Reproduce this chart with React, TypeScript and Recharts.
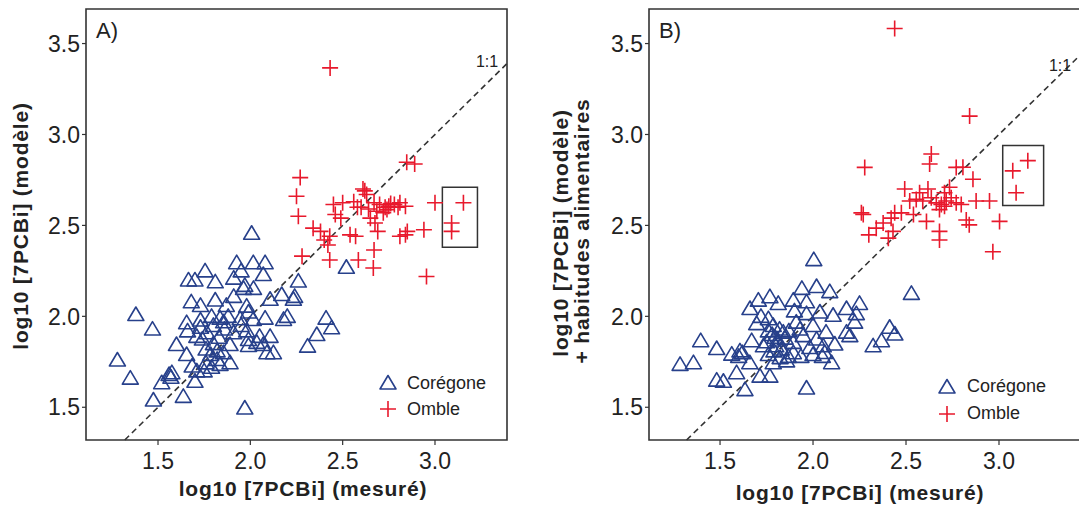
import { ScatterChart, Scatter, XAxis, YAxis, ReferenceArea, ReferenceLine, Legend } from 'recharts';

type Pt = [number, number];

// A) measured vs model
const coregoneA: Pt[] = [
  [1.28, 1.76], [1.35, 1.66], [1.38, 2.01], [1.47, 1.93], [1.475, 1.54], [1.52, 1.635], [1.56, 1.68],
  [1.575, 1.69], [1.57, 1.665], [1.6, 1.845], [1.637, 1.56], [1.655, 1.79], [1.665, 2.2], [1.7, 2.2],
  [1.755, 2.25], [1.81, 2.19], [1.68, 2.08], [1.73, 2.06], [1.81, 2.09], [1.655, 1.965], [1.73, 1.98],
  [1.79, 2.0], [1.836, 1.99], [1.87, 2.06], [1.91, 2.11], [1.926, 2.295], [1.91, 2.21], [1.95, 2.25],
  [1.97, 2.17], [2.016, 2.295], [2.08, 2.295], [2.07, 2.23], [1.98, 2.056], [2.016, 1.983], [1.98, 1.92],
  [1.99, 1.873], [1.91, 1.91], [1.89, 1.845], [1.854, 1.8], [1.82, 1.763], [1.76, 1.744], [1.76, 1.82],
  [1.8, 1.85], [1.71, 1.7], [1.75, 1.7], [1.7, 1.643], [1.97, 1.496], [2.08, 1.99], [2.107, 2.094],
  [2.05, 1.89], [2.107, 1.89], [2.07, 1.845], [2.09, 1.8], [2.125, 1.8], [2.18, 1.983], [2.2, 2.0],
  [2.17, 2.12], [2.233, 2.094], [2.24, 2.11], [2.26, 2.194], [2.41, 1.99], [2.44, 1.937], [2.36, 1.9],
  [2.31, 1.836], [2.52, 2.27], [2.007, 2.457], [1.73, 1.94], [1.765, 1.91], [1.8, 1.95], [1.83, 1.885],
  [1.74, 1.875], [1.785, 1.79], [1.836, 1.736], [1.89, 1.745], [1.855, 1.97], [1.945, 1.987], [1.99, 2.024],
  [2.017, 2.154], [1.963, 2.154], [2.035, 1.857], [1.99, 1.84], [1.71, 1.89], [1.685, 1.727], [1.79, 1.72],
  [1.82, 1.81], [1.86, 1.93], [1.66, 1.92], [1.95, 1.95], [1.88, 2.0],
];

const ombleA: Pt[] = [
  [2.432, 3.366], [2.27, 2.763], [2.25, 2.66], [2.26, 2.55], [2.847, 2.847], [2.89, 2.838], [2.62, 2.69],
  [2.63, 2.67], [2.61, 2.7], [2.45, 2.615], [2.5, 2.625], [2.56, 2.63], [2.6, 2.6], [2.67, 2.625],
  [2.7, 2.615], [2.75, 2.605], [2.78, 2.615], [2.81, 2.625], [2.84, 2.605], [2.685, 2.578], [2.72, 2.57],
  [2.74, 2.587], [2.46, 2.56], [2.49, 2.54], [2.65, 2.54], [2.675, 2.513], [2.34, 2.485], [2.38, 2.467],
  [2.43, 2.44], [2.4, 2.42], [2.54, 2.448], [2.57, 2.44], [2.69, 2.467], [2.81, 2.44], [2.84, 2.448],
  [2.85, 2.467], [2.94, 2.476], [3.0, 2.625], [3.154, 2.625], [3.09, 2.513], [3.09, 2.467], [2.67, 2.365],
  [2.42, 2.392], [2.28, 2.331], [2.43, 2.31], [2.585, 2.31], [2.666, 2.266], [2.954, 2.219],
  [2.58, 2.6], [2.64, 2.59], [2.76, 2.62], [2.73, 2.6], [2.8, 2.6],
];

// B) model + eating habits
const coregoneB: Pt[] = [
  [2.004, 2.312], [2.529, 2.126], [1.285, 1.736], [1.357, 1.745], [1.396, 1.866], [1.482, 1.823],
  [1.482, 1.649], [1.518, 1.643], [1.563, 1.792], [1.607, 1.81], [1.589, 1.69], [1.634, 1.597], [1.66, 1.745],
  [1.67, 1.866], [1.661, 2.043], [1.706, 2.089], [1.768, 2.108], [1.813, 2.071], [1.697, 1.96], [1.76, 1.987],
  [1.715, 1.671], [1.768, 1.671], [1.786, 1.745], [1.795, 1.885], [1.84, 1.913], [1.8, 1.838], [1.83, 1.82],
  [1.867, 1.78], [1.894, 1.857], [1.894, 2.089], [1.94, 2.154], [1.965, 2.08], [2.019, 2.164], [2.09, 2.136],
  [1.965, 2.015], [1.91, 1.968], [2.0, 1.95], [2.037, 2.024], [2.108, 2.006], [2.07, 1.913], [2.019, 1.875],
  [1.947, 1.894], [1.983, 1.829], [2.055, 1.838], [2.117, 1.848], [2.063, 1.801], [2.1, 1.745], [1.965, 1.606],
  [2.18, 2.043], [2.25, 2.071], [2.233, 2.015], [2.224, 1.968], [2.18, 1.913], [2.198, 1.894], [2.323, 1.838],
  [2.368, 1.866], [2.412, 1.94], [2.44, 1.903], [1.76, 1.92], [1.733, 1.838], [1.786, 1.95], [1.858, 1.755],
  [1.894, 1.8], [1.823, 1.773], [1.78, 1.9], [1.81, 1.87], [1.85, 1.88], [1.75, 1.86], [1.82, 1.93],
  [1.87, 1.92], [1.79, 1.81], [1.76, 1.79], [1.93, 1.93], [1.9, 2.03], [1.72, 2.0], [1.62, 1.8], [1.6, 1.78],
  [1.935, 1.78], [2.0, 1.79], [2.05, 1.78],
];

const ombleB: Pt[] = [
  [2.439, 3.583], [2.842, 3.101], [2.278, 2.819], [2.636, 2.893], [2.627, 2.838], [2.77, 2.819], [2.806, 2.82],
  [2.86, 2.754], [2.493, 2.7], [2.573, 2.68], [2.618, 2.7], [2.707, 2.68], [2.734, 2.71], [2.52, 2.634],
  [2.555, 2.643], [2.59, 2.634], [2.636, 2.652], [2.663, 2.624], [2.69, 2.615], [2.716, 2.634], [2.743, 2.652],
  [2.77, 2.624], [2.797, 2.615], [2.877, 2.634], [2.949, 2.634], [2.68, 2.587], [2.707, 2.605], [2.439, 2.569],
  [2.475, 2.569], [2.42, 2.54], [2.54, 2.56], [2.26, 2.569], [2.27, 2.56], [2.377, 2.513], [2.34, 2.485],
  [2.3, 2.448], [2.43, 2.467], [2.405, 2.43], [2.61, 2.522], [2.68, 2.467], [2.68, 2.42], [2.824, 2.53],
  [2.84, 2.503], [3.003, 2.522], [2.967, 2.355], [3.092, 2.68], [3.074, 2.8], [3.155, 2.856],
];

const xTicks = [1.5, 2.0, 2.5, 3.0];
const yTicks = [1.5, 2.0, 2.5, 3.0, 3.5];
const seriesNames = ['Corégone', 'Omble'];
const yDomain: [number, number] = [1.32, 3.69];
// highlighted points [x1, x2, y1, y2]
const boxA = [3.04, 3.23, 2.38, 2.71];
const boxB = [3.02, 3.24, 2.61, 2.94];

const BLUE = '#27408B';
const RED = '#E8192C';
const INK = '#222';
const FRAME = '#333';
const FONT = "'Liberation Sans', Arial, sans-serif";

const toRows = (pts: Pt[]) => pts.map(([x, y]) => ({ x, y }));

function Triangle(props: any) {
  const { cx, cy } = props;
  return (
    <path
      d={`M${cx},${cy - 7.5}L${cx + 8},${cy + 6}L${cx - 8},${cy + 6}Z`}
      fill="none" stroke={BLUE} strokeWidth={1.6} strokeLinejoin="round"
    />
  );
}

function Plus(props: any) {
  const { cx, cy } = props;
  return <path d={`M${cx - 8},${cy}H${cx + 8}M${cx},${cy - 8}V${cy + 8}`} stroke={RED} strokeWidth={1.6} />;
}

const legendContent = (gap: number, row: number) => () => (
  <div style={{ fontFamily: FONT, fontSize: 18, color: INK }}>
    {seriesNames.map((name, i) => (
      <div key={name} style={{ display: 'flex', alignItems: 'center', height: row }}>
        <svg width={20} height={20}>{i === 0 ? <Triangle cx={10} cy={10} /> : <Plus cx={10} cy={10} />}</svg>
        <span style={{ marginLeft: gap }}>{name}</span>
      </div>
    ))}
  </div>
);

function Panel(p: {
  left: number; width: number; mLeft: number; mRight: number; yAxisW: number;
  xDomain: [number, number]; coregone: Pt[]; omble: Pt[]; box: number[];
  legendPos: { left: number; top: number; gap: number; row: number };
}) {
  const [x0, x1] = p.xDomain;
  const lineEnd = Math.min(x1, yDomain[1]);
  return (
    <div style={{ position: 'absolute', left: p.left, top: 0, fontFamily: FONT }}>
      <ScatterChart width={p.width} height={512} margin={{ top: 9, right: p.mRight, bottom: 42, left: p.mLeft }}>
        <XAxis
          type="number" dataKey="x" domain={p.xDomain} ticks={xTicks} allowDataOverflow
          height={30} axisLine={false} tickSize={5} tickMargin={8}
          tickLine={{ stroke: FRAME, strokeWidth: 1.2 }}
          tick={{ fill: INK, fontSize: 23, fontFamily: FONT }}
          tickFormatter={(v: number) => v.toFixed(1)}
        />
        <YAxis
          type="number" dataKey="y" domain={yDomain} ticks={yTicks} allowDataOverflow
          width={p.yAxisW} axisLine={false} tickSize={4} tickMargin={2}
          tickLine={{ stroke: FRAME, strokeWidth: 1.2 }}
          tick={{ fill: INK, fontSize: 23, fontFamily: FONT }}
          tickFormatter={(v: number) => v.toFixed(1)}
        />
        <Scatter name={seriesNames[0]} data={toRows(p.coregone)} shape={Triangle} isAnimationActive={false} />
        <Scatter name={seriesNames[1]} data={toRows(p.omble)} shape={Plus} isAnimationActive={false} />
        <ReferenceLine
          segment={[{ x: yDomain[0], y: yDomain[0] }, { x: lineEnd, y: lineEnd }]}
          stroke={FRAME} strokeWidth={1.6} strokeDasharray="6 4" ifOverflow="visible"
        />
        <ReferenceArea
          x1={p.box[0]} x2={p.box[1]} y1={p.box[2]} y2={p.box[3]}
          fill="none" fillOpacity={0} stroke={FRAME} strokeWidth={1.5} ifOverflow="visible"
        />
        <ReferenceArea
          x1={x0} x2={x1} y1={yDomain[0]} y2={yDomain[1]}
          fill="none" fillOpacity={0} stroke={FRAME} strokeWidth={1.6} ifOverflow="visible"
        />
        <Legend
          layout="vertical" align="center" verticalAlign="middle"
          wrapperStyle={{ position: 'absolute', left: p.legendPos.left, top: p.legendPos.top, width: 'auto' }}
          content={legendContent(p.legendPos.gap, p.legendPos.row)}
        />
      </ScatterChart>
    </div>
  );
}

const txt = (style: React.CSSProperties, children: React.ReactNode) => (
  <div style={{ position: 'absolute', whiteSpace: 'nowrap', fontFamily: FONT, color: INK, ...style }}>{children}</div>
);

const titleStyle: React.CSSProperties = { fontSize: 21, fontWeight: 'bold', letterSpacing: 0.8, lineHeight: '22px' };
const rotY = (cx: number, cy: number): React.CSSProperties => ({
  left: cx, top: cy, transform: 'translate(-50%, -50%) rotate(-90deg)', ...titleStyle,
});
const ctr = (cx: number, cy: number): React.CSSProperties => ({
  left: cx, top: cy, transform: 'translate(-50%, -50%)',
});

export default function App() {
  return (
    <div style={{ position: 'absolute', left: 0, top: 0, width: 1079, height: 512, overflow: 'hidden', background: '#fff' }}>
      <Panel
        left={0} width={540} mLeft={26} mRight={33} yAxisW={60} xDomain={[1.11, 3.39]}
        coregone={coregoneA} omble={ombleA} box={boxA}
        legendPos={{ left: 378, top: 370, gap: 9, row: 26 }}
      />
      {/* right border of panel B falls just outside the picture */}
      <Panel
        left={540} width={560} mLeft={49} mRight={3} yAxisW={60} xDomain={[1.118, 3.527]}
        coregone={coregoneB} omble={ombleB} box={boxB}
        legendPos={{ left: 397, top: 373, gap: 10, row: 27 }}
      />
      {txt({ ...ctr(107, 31), fontSize: 22, lineHeight: '24px' }, 'A)')}
      {txt({ ...ctr(670, 31), fontSize: 22, lineHeight: '24px' }, 'B)')}
      {txt({ ...ctr(487, 62), fontSize: 16, lineHeight: '18px' }, '1:1')}
      {txt({ ...ctr(1060, 66), fontSize: 16, lineHeight: '18px' }, '1:1')}
      {txt({ ...ctr(303, 489), ...titleStyle }, 'log10 [7PCBi] (mesuré)')}
      {txt({ ...ctr(860, 493), ...titleStyle }, 'log10 [7PCBi] (mesuré)')}
      {txt(rotY(21, 226), 'log10 [7PCBi] (modèle)')}
      {txt(rotY(561, 233), 'log10 [7PCBi] (modèle)')}
      {txt(rotY(582, 231), '+ habitudes alimentaires')}
    </div>
  );
}
